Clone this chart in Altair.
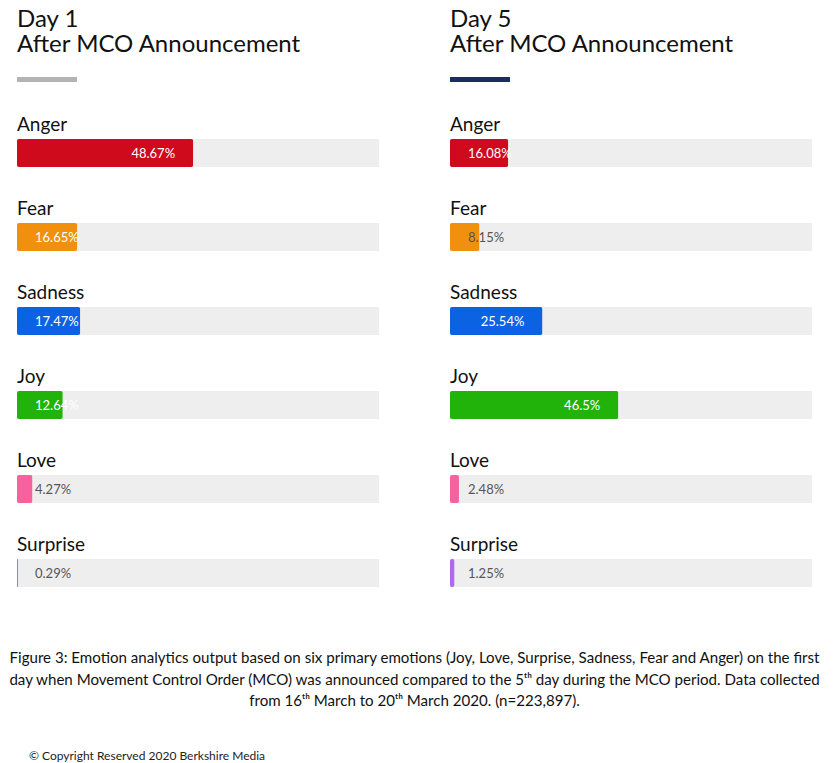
import altair as alt
import pandas as pd

emotions = ["Anger", "Fear", "Sadness", "Joy", "Love", "Surprise"]
day1_values = [48.67, 16.65, 17.47, 12.64, 4.27, 0.29]
day5_values = [16.08, 8.15, 25.54, 46.5, 2.48, 1.25]
emotion_colors = ["#cf0a1c", "#f0900c", "#0b63e3", "#21b30a", "#f7619d", "#b068f2"]
panel_titles = [["Day 1", "After MCO Announcement"], ["Day 5", "After MCO Announcement"]]
accent_colors = ["#b3b3b3", "#1a2d5c"]
caption_lines = [
    "Figure 3: Emotion analytics output based on six primary emotions (Joy, Love, Surprise, Sadness, Fear and Anger) on the first",
    "day when Movement Control Order (MCO) was announced compared to the 5\u1d57\u02b0 day during the MCO period. Data collected",
    "from 16\u1d57\u02b0 March to 20\u1d57\u02b0 March 2020. (n=223,897).",
]
copyright_text = "\u00a9 Copyright Reserved 2020 Berkshire Media"

FONT = "Lato"
PANEL_W = 362
PANEL_H = 510


def panel(values, title, accent):
    df = pd.DataFrame({"emotion": emotions, "value": values})
    df["full"] = 100
    df["label"] = [f"{v:g}%" for v in values]
    base = alt.Chart(df)
    xs = alt.Scale(domain=[0, 100], nice=False, zero=True)
    y = alt.Y("emotion:N", sort=emotions, axis=None,
              scale=alt.Scale(range=[62, 510], paddingInner=2 / 3, paddingOuter=0))
    track = base.mark_bar(color="#eeeeee").encode(
        x=alt.X("full:Q", scale=xs, axis=None), y=y)
    bars = base.mark_bar(cornerRadius=2).encode(
        x=alt.X("value:Q", scale=xs, axis=None), y=y,
        color=alt.Color("emotion:N", scale=alt.Scale(domain=emotions, range=emotion_colors), legend=None))
    names = base.mark_text(align="left", baseline="alphabetic", dy=-22, fontSize=19,
                           font=FONT, color="#111111").encode(
        x=alt.value(0), y=y, text="emotion:N")
    tcolor = alt.condition(alt.datum.value >= 10, alt.value("#ffffff"), alt.value("#555555"))
    inside = base.transform_filter(alt.datum.value > 22).transform_calculate(
        pos="datum.value - 5").mark_text(align="right", baseline="middle", fontSize=13, font=FONT, dy=1).encode(
        x=alt.X("pos:Q", scale=xs, axis=None), y=y, text="label:N", color=tcolor)
    outside = base.transform_filter(alt.datum.value <= 22).mark_text(
        align="left", baseline="middle", fontSize=13, font=FONT, dx=18, dy=1).encode(
        x=alt.value(0), y=y, text="label:N", color=tcolor)
    accent_bar = alt.Chart(pd.DataFrame({"c": [accent]})).mark_rect(color=accent).encode(
        x=alt.value(0), x2=alt.value(60), y=alt.value(0), y2=alt.value(5))
    return alt.layer(accent_bar, track, bars, names, inside, outside).properties(
        width=PANEL_W, height=PANEL_H,
        title=alt.TitleParams(text=title, anchor="start", frame="group", fontSize=24, font=FONT,
                              fontWeight="normal", color="#111111", lineHeight=25, offset=20))


panels = alt.hconcat(panel(day1_values, panel_titles[0], accent_colors[0]),
                     panel(day5_values, panel_titles[1], accent_colors[1]), spacing=71)

cap_df = pd.DataFrame({"k": [0]})
caption = alt.Chart(cap_df).mark_text(text=caption_lines, align="center", baseline="alphabetic",
                                      fontSize=15.1, lineHeight=21.5, font=FONT, color="#111111").encode(
    x=alt.value((PANEL_W * 2 + 71) / 2), y=alt.value(62))
copyright_mark = alt.Chart(cap_df).mark_text(text=copyright_text, align="left", baseline="alphabetic",
                                             fontSize=12, font=FONT, color="#222222").encode(
    x=alt.value(12), y=alt.value(159))
caption_chart = alt.layer(caption, copyright_mark).properties(width=PANEL_W * 2 + 71, height=165)

chart = alt.vconcat(panels, caption_chart, spacing=14).properties(
    padding={"left": 0, "top": 0, "right": 5, "bottom": 0}
).configure_view(stroke=None)

chart.save("out.html", embed_options={"renderer": "svg", "actions": False})
